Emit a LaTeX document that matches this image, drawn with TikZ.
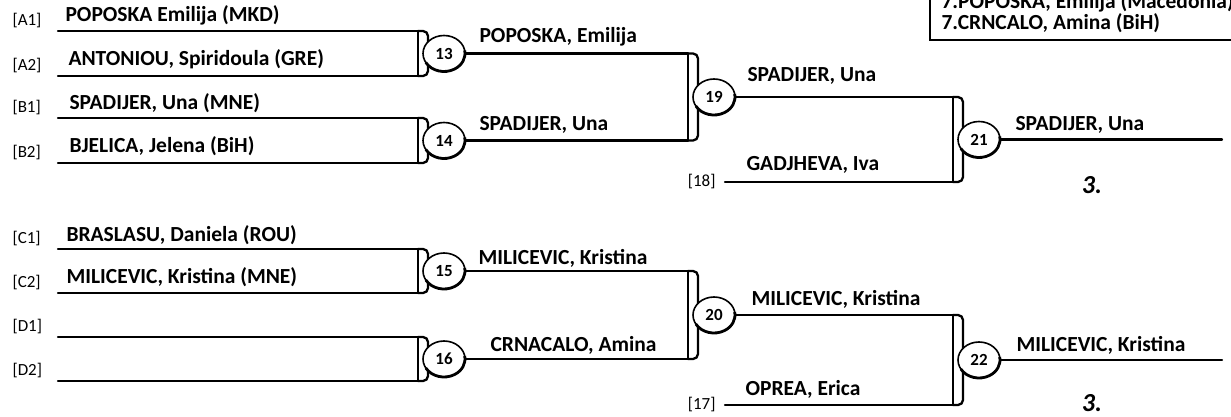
\documentclass[tikz,border=0pt]{standalone}
\usepackage{fontspec}
\setmainfont{Carlito}
\usetikzlibrary{positioning, calc, shapes.geometric}

\tikzset{
  bout/.style={line width=2.3pt, line cap=round},
  matchno/.style={ellipse, draw, fill=white, line width=1.6pt, minimum width=42pt, minimum height=36pt, inner sep=0pt, font=\fontsize{17}{17}\selectfont\bfseries},
  seedlbl/.style={font=\fontsize{17}{17}\selectfont},
  player/.style={anchor=base west, font=\fontsize{21.5}{22}\selectfont\bfseries},
  place/.style={font=\fontsize{26}{26}\selectfont\bfseries\itshape},
}

\begin{document}
\begin{tikzpicture}[x=1pt, y=-1pt]
  \clip (0,0) rectangle (1231,417);

  % Seeds
  \foreach \s/\y in {A1/31, A2/76, B1/118, B2/163, C1/249, C2/293, D1/337, D2/381} {
    \coordinate (s\s) at (58,\y);
    \node[seedlbl, anchor=west] (l\s) at (9,\y-10) {[\s]};
  }
  \foreach \s/\y in {18/182, 17/405} {
    \coordinate (s\s) at (725,\y);
    \node[seedlbl, anchor=east] (l\s) at (719,\y) {[\s]};
  }

  % Brackets and match numbers
  \foreach \m/\bx/\ty/\by in {13/418/31/76, 14/418/118/163, 15/418/249/293, 16/418/337/381,
                              19/688/53.5/140.5, 20/688/271/359, 21/953/97/182, 22/953/315/405} {
    \coordinate (t\m) at (\bx,\ty);
    \coordinate (b\m) at (\bx,\by);
    \draw[bout] (t\m) -- (b\m);
    \draw[bout, rounded corners=5pt] (t\m) -- ++(10,0) |- (b\m);
    \node[matchno] (m\m) at (\bx+26,{(\ty+\by)/2}) {\m};
    \draw[line width=2.8pt] (m\m.center) ++(-150:21pt and 18pt)
      arc[start angle=-150, end angle=10, x radius=21pt, y radius=18pt];
  }

  % Lines into the brackets
  \foreach \s/\m in {A1/t13, A2/b13, B1/t14, B2/b14, C1/t15, C2/b15, D1/t16, D2/b16, 18/b21, 17/b22}
    \draw[bout] (s\s) -- (\m);
  \foreach \a/\b in {m13/t19, m14/b19, m15/t20, m16/b20, m19/t21, m20/t22}
    \draw[bout] (\a) -- (\b);
  \coordinate (f21) at (1222,139.5);
  \coordinate (f22) at (1222,360);
  \draw[bout] (m21) -- (f21);
  \draw[bout] (m22) -- (f22);

  % Names
  \node[player] (nA1) at (62,22) {POPOSKA Emilija (MKD)};
  \node[player] (nA2) at (65,66) {ANTONIOU, Spiridoula (GRE)};
  \node[player] (nB1) at (66,110) {SPADIJER, Una (MNE)};
  \node[player] (nB2) at (66,153) {BJELICA, Jelena (BiH)};
  \node[player] (nC1) at (63,241) {BRASLASU, Daniela (ROU)};
  \node[player] (nC2) at (63,283) {MILICEVIC, Kristina (MNE)};
  \node[player] (w13) at (476,43) {POPOSKA, Emilija};
  \node[player] (w14) at (476,131) {SPADIJER, Una};
  \node[player] (w15) at (475,264) {MILICEVIC, Kristina};
  \node[player] (w16) at (487,351) {CRNACALO, Amina};
  \node[player] (w19) at (744,82) {SPADIJER, Una};
  \node[player] (p18) at (743,171) {GADJHEVA, Iva};
  \node[player] (w20) at (748,305) {MILICEVIC, Kristina};
  \node[player] (p17) at (742,395) {OPREA, Erica};
  \node[player] (w21) at (1012,131) {SPADIJER, Una};
  \node[player] (w22) at (1013,351) {MILICEVIC, Kristina};

  % Places
  \node[place] (r21) at (1092,185) {3.};
  \node[place] (r22) at (1092,403) {3.};

  % Seeding box, cut off at the top
  \draw[line width=2.8pt] (930,-10) |- (1240,40);
  \node[player] (k1) at (938,9) {7.POPOSKA, Emilija (Macedonia)};
  \node[player] (k2) at (938,30) {7.CRNCALO, Amina (BiH)};
\end{tikzpicture}
\end{document}
